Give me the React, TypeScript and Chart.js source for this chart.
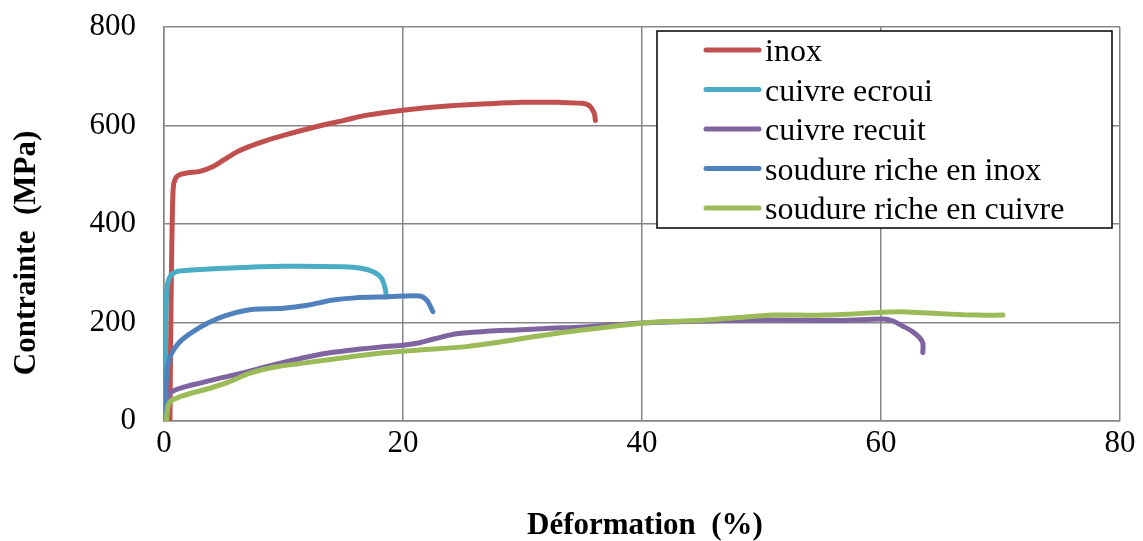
import React, { useEffect, useRef } from "react";
import { Chart, registerables } from "chart.js";

Chart.register(...registerables);

const seriesNames = [
  "inox",
  "cuivre ecroui",
  "cuivre recuit",
  "soudure riche en inox",
  "soudure riche en cuivre",
];
const seriesColors = ["#C0504D", "#4BACC6", "#8064A2", "#4F81BD", "#9BBB59"];

const xTicks = [0, 20, 40, 60, 80];
const yTicks = [0, 200, 400, 600, 800];

const inoxX = [0.5, 0.55, 0.62, 0.7, 0.78, 0.95, 1.3, 2, 3, 4.2, 5, 6, 7, 8.6, 10, 12.8, 15, 17, 20, 24, 27, 30, 33, 35, 35.6, 36, 36.1];
const inoxY = [0, 150, 300, 420, 475, 492, 500, 504, 507, 518, 530, 545, 556, 570, 580, 598, 610, 621, 631, 640, 644, 647, 647, 645, 640, 625, 610];

const cuivreEcrouiX = [0.1, 0.12, 0.15, 0.25, 0.5, 1, 2, 5, 10, 15, 16.5, 17.5, 18.2, 18.5, 18.6];
const cuivreEcrouiY = [0, 100, 200, 270, 293, 303, 306, 310, 314, 313, 310, 303, 290, 270, 255];

const cuivreRecuitX = [0, 0.2, 0.5, 1.3, 3, 4.7, 6.5, 8, 10, 12.2, 14, 16.4, 18, 20, 21.4, 22.5, 24.5, 27, 29.5, 32, 35.1, 40.1, 45.4, 51, 56.6, 60.2, 61, 61.8, 62.6, 63.2, 63.5, 63.5];
const cuivreRecuitY = [0, 30, 56, 66, 77, 87, 97, 107, 119, 131, 139, 146, 150, 154, 159, 166, 177, 182, 185, 188, 191, 199, 203, 205, 204, 207, 203, 193, 182, 170, 158, 139];

const soudureInoxX = [0.1, 0.15, 0.3, 0.5, 0.9, 1.5, 3, 4.5, 6, 7.5, 10, 12, 14, 16, 18.6, 21.4, 22, 22.5];
const soudureInoxY = [0, 60, 110, 130, 148, 165, 190, 208, 220, 227, 229, 235, 245, 250, 252, 254, 245, 222];

const soudureCuivreX = [0.2, 0.3, 0.5, 1.3, 2.5, 3.9, 5.5, 7.2, 9.4, 11.5, 13.6, 15.5, 17.8, 19.7, 21.4, 25.3, 28, 30.9, 33.5, 36.5, 40.1, 42, 45.4, 48, 51, 53, 55.5, 57.4, 60.2, 61.6, 63.5, 65.8, 68, 70.2];
const soudureCuivreY = [0, 25, 39, 49, 58, 67, 80, 97, 110, 117, 124, 130, 137, 141, 144, 151, 160, 171, 180, 189, 199, 202, 205, 210, 215, 215, 215, 217, 221, 222, 220, 217, 215, 215];

const seriesX = [inoxX, cuivreEcrouiX, cuivreRecuitX, soudureInoxX, soudureCuivreX];
const seriesY = [inoxY, cuivreEcrouiY, cuivreRecuitY, soudureInoxY, soudureCuivreY];

const xTitle = "Déformation  (%)";
const yTitle = "Contrainte  (MPa)";

const FONT = "'Liberation Serif', 'Times New Roman', serif";
const GRID = "#868686";

const overlayPlugin = {
  id: "overlay",
  afterDraw(chart: any) {
    const ctx = chart.ctx;
    const area = chart.chartArea;
    ctx.save();
    // axis titles
    ctx.fillStyle = "#000";
    ctx.font = `bold 31px ${FONT}`;
    ctx.textAlign = "center";
    ctx.textBaseline = "middle";
    ctx.fillText(xTitle, (area.left + area.right) / 2 + 3, 526);
    ctx.save();
    ctx.translate(27, 253);
    ctx.rotate(-Math.PI / 2);
    ctx.fillText(yTitle, 0, 0);
    ctx.restore();

    // legend box
    const bx = 657, by = 31, bw = 455, bh = 197;
    ctx.fillStyle = "#fff";
    ctx.fillRect(bx, by, bw, bh);
    ctx.strokeStyle = "#000";
    ctx.lineWidth = 1.5;
    ctx.strokeRect(bx, by, bw, bh);
    ctx.font = `32px ${FONT}`;
    ctx.textAlign = "left";
    ctx.textBaseline = "alphabetic";
    seriesNames.forEach((name, i) => {
      const ly = 50 + i * 39.5;
      ctx.strokeStyle = seriesColors[i];
      ctx.lineWidth = 5;
      ctx.lineCap = "round";
      ctx.beginPath();
      ctx.moveTo(706, ly);
      ctx.lineTo(759, ly);
      ctx.stroke();
      ctx.fillStyle = "#000";
      ctx.fillText(name, 765, ly + 11);
    });
    ctx.restore();
  },
};

export default function App() {
  const ref = useRef<HTMLCanvasElement>(null);

  useEffect(() => {
    if (!ref.current) return;
    const datasets = seriesNames.map((name, i) => ({
      label: name,
      data: seriesX[i].map((x, j) => ({ x, y: seriesY[i][j] })),
      borderColor: seriesColors[i],
      backgroundColor: seriesColors[i],
      borderWidth: 5,
      pointRadius: 0,
      showLine: true,
      tension: 0.3,
      borderCapStyle: "round" as const,
      borderJoinStyle: "round" as const,
      order: seriesNames.length - i,
    }));

    const chart = new Chart(ref.current, {
      type: "scatter",
      data: { datasets },
      options: {
        animation: false,
        responsive: false,
        events: [],
        layout: { padding: { top: 27, right: 23, left: 0, bottom: 0 } },
        plugins: {
          legend: { display: false },
          tooltip: { enabled: false },
        },
        scales: {
          x: {
            type: "linear",
            min: xTicks[0],
            max: xTicks[xTicks.length - 1],
            afterBuildTicks: (scale: any) => {
              scale.ticks = xTicks.map((v) => ({ value: v }));
            },
            afterFit: (scale: any) => {
              scale.height = 120;
              scale.paddingLeft = 0;
              scale.paddingRight = 0;
              scale.paddingTop = 0;
              scale.paddingBottom = 0;
            },
            ticks: {
              color: "#000",
              font: { family: FONT, size: 31 },
              padding: 4,
              maxRotation: 0,
            },
            grid: { color: GRID, lineWidth: 1.5, drawTicks: false },
            border: { color: GRID, width: 1.5 },
          },
          y: {
            type: "linear",
            min: yTicks[0],
            max: yTicks[yTicks.length - 1],
            afterBuildTicks: (scale: any) => {
              scale.ticks = yTicks.map((v) => ({ value: v }));
            },
            afterFit: (scale: any) => {
              scale.width = 164;
              scale.paddingLeft = 0;
              scale.paddingRight = 0;
              scale.paddingTop = 0;
              scale.paddingBottom = 0;
            },
            ticks: {
              color: "#000",
              font: { family: FONT, size: 31 },
              padding: 28,
            },
            grid: { color: GRID, lineWidth: 1.5, drawTicks: false },
            border: { color: GRID, width: 1.5 },
          },
        },
      },
      plugins: [overlayPlugin],
    });
    return () => chart.destroy();
  }, []);

  return (
    <div style={{ position: "fixed", left: 0, top: 0, width: 1143, height: 541, background: "#fff" }}>
      <canvas ref={ref} width={1143} height={541} style={{ display: "block" }} />
    </div>
  );
}
